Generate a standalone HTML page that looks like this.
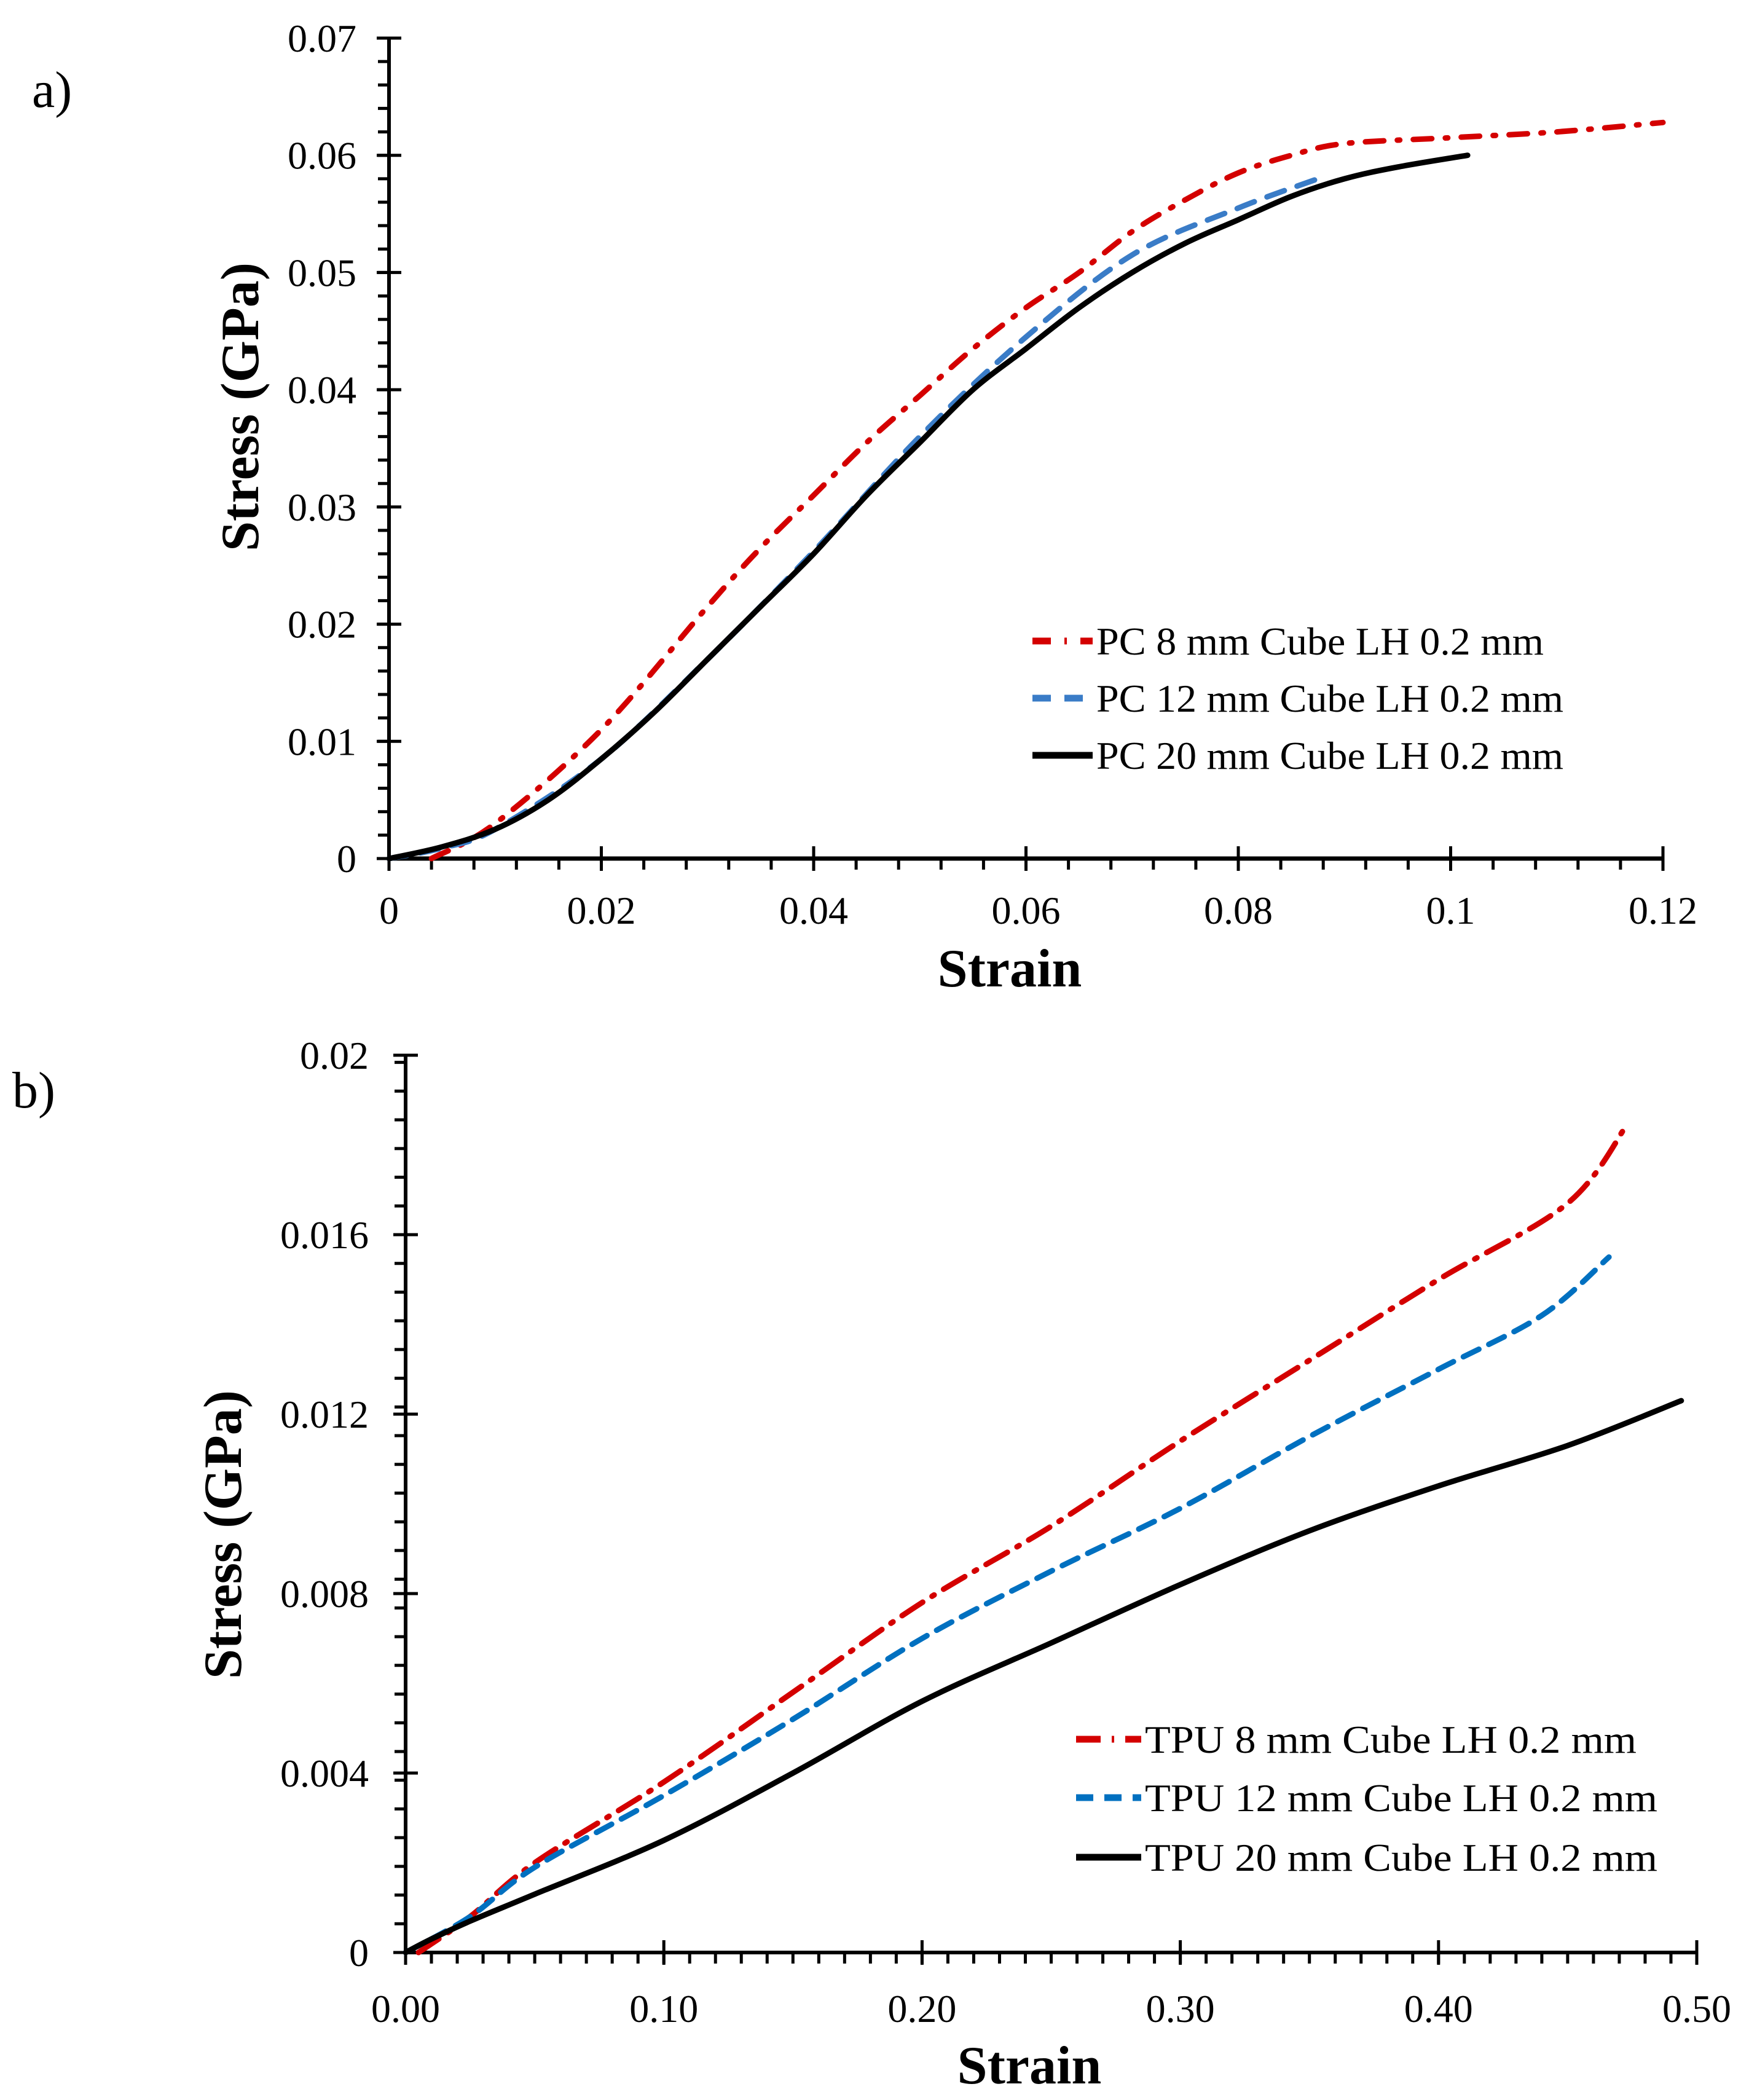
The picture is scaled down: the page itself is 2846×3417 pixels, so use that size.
<!DOCTYPE html>
<html><head><meta charset="utf-8"><style>
html,body{margin:0;padding:0;background:#fff;}
svg{display:block;font-family:"Liberation Serif",serif;}
</style></head><body>
<svg id="fig" width="2846" height="3417" viewBox="0 0 2846 3417" xmlns="http://www.w3.org/2000/svg">
<rect width="2846" height="3417" fill="#fff"/>
<text x="52" y="174" font-size="84">a)</text>
<text x="20" y="1802" font-size="84">b)</text>
<g id="ga"></g>
<g id="gb"></g>
</svg>
<script>
// ---- Chart a data ----
const aXTicks = ["0","0.02","0.04","0.06","0.08","0.1","0.12"];
const aYTicks = ["0","0.01","0.02","0.03","0.04","0.05","0.06","0.07"];
const aPC8x = [0.004,0.01,0.02,0.03,0.035,0.04,0.045,0.05,0.055,0.06,0.065,0.07,0.075,0.08,0.085,0.09,0.1,0.11,0.12];
const aPC8y = [0,0.003,0.011,0.0215,0.0265,0.031,0.0355,0.0395,0.0435,0.047,0.050,0.0535,0.0562,0.0585,0.060,0.061,0.0615,0.062,0.0628];
const aPC12x = [0,0.005,0.01,0.02,0.03,0.04,0.05,0.06,0.07,0.08,0.0875];
const aPC12y = [0,0.0009,0.0025,0.0085,0.017,0.0262,0.036,0.0445,0.0515,0.0555,0.058];
const aPC20x = [0,0.005,0.01,0.015,0.02,0.025,0.03,0.035,0.04,0.045,0.05,0.055,0.06,0.065,0.07,0.075,0.08,0.085,0.09,0.095,0.1016];
const aPC20y = [0,0.001,0.0025,0.005,0.0085,0.0125,0.017,0.0215,0.026,0.031,0.0355,0.040,0.0435,0.047,0.050,0.0525,0.0545,0.0565,0.058,0.059,0.060];
// ---- Chart b data ----
const bXTicks = ["0.00","0.10","0.20","0.30","0.40","0.50"];
const bYTicks = ["0","0.004","0.008","0.012","0.016","0.02"];
const bTPU8x = [0.005,0.025,0.05,0.1,0.15,0.2,0.25,0.3,0.35,0.4,0.45,0.4735];
const bTPU8y = [0,0.0008,0.002,0.0038,0.0058,0.0078,0.0095,0.0114,0.0132,0.015,0.0167,0.0185];
const bTPU12x = [0,0.025,0.05,0.1,0.15,0.2,0.25,0.3,0.35,0.4,0.44,0.466];
const bTPU12y = [0,0.0008,0.0019,0.0035,0.0052,0.0070,0.0085,0.0099,0.0115,0.013,0.0142,0.0155];
const bTPU20x = [0,0.01,0.025,0.05,0.1,0.15,0.2,0.25,0.3,0.35,0.4,0.45,0.494];
const bTPU20y = [0,0.0003,0.0007,0.0013,0.0025,0.004,0.0056,0.0069,0.0082,0.0094,0.0104,0.0113,0.0123];

const NS="http://www.w3.org/2000/svg";
function mk(parent,tag,attrs,txt){const e=document.createElementNS(NS,tag);for(const k in attrs)e.setAttribute(k,attrs[k]);if(txt!==undefined)e.textContent=txt;parent.appendChild(e);return e;}
function smooth(p){
  let d='M'+p[0][0].toFixed(1)+','+p[0][1].toFixed(1);
  for(let i=0;i<p.length-1;i++){
    const p0=p[Math.max(0,i-1)],p1=p[i],p2=p[i+1],p3=p[Math.min(p.length-1,i+2)];
    const c1=[p1[0]+(p2[0]-p0[0])/6,p1[1]+(p2[1]-p0[1])/6];
    const c2=[p2[0]-(p3[0]-p1[0])/6,p2[1]-(p3[1]-p1[1])/6];
    d+=' C'+c1[0].toFixed(1)+','+c1[1].toFixed(1)+' '+c2[0].toFixed(1)+','+c2[1].toFixed(1)+' '+p2[0].toFixed(1)+','+p2[1].toFixed(1);
  }
  return d;
}

function chart(g,cfg){
  const sx=v=>cfg.x0+(v-cfg.xmin)/(cfg.xmax-cfg.xmin)*(cfg.x1-cfg.x0);
  const sy=v=>cfg.y0-(v-cfg.ymin)/(cfg.ymax-cfg.ymin)*(cfg.y0-cfg.y1);
  let e=mk(g,'line',{x1:cfg.x0,y1:cfg.y0,x2:cfg.x1,y2:cfg.y0,stroke:'#000','stroke-width':cfg.xw});
  
  
  e=mk(g,'line',{x1:cfg.x0,y1:cfg.y0,x2:cfg.x0,y2:cfg.y1,stroke:'#000','stroke-width':6});
  
  
  for(let v=cfg.xmin;v<=cfg.xmax+1e-9;v+=cfg.xminor){
    e=mk(g,'line',{x1:sx(v),y1:cfg.y0,x2:sx(v),y2:cfg.y0+18,stroke:'#000','stroke-width':5});
    
    
  }
  cfg.xt.forEach((t,i)=>{
    const v=cfg.xmin+i*cfg.xstep;
    e=mk(g,'line',{x1:sx(v),y1:cfg.y0-20,x2:sx(v),y2:cfg.y0+20,stroke:'#000','stroke-width':5});
    
    
    e=mk(g,'text',{x:sx(v),y:cfg.xly,'font-size':64,'text-anchor':'middle'},t);
    
    
  });
  for(let v=cfg.ymin;v<=cfg.ymax+1e-9;v+=cfg.yminor){
    e=mk(g,'line',{x1:cfg.x0-18,y1:sy(v),x2:cfg.x0,y2:sy(v),stroke:'#000','stroke-width':5});
    
    
  }
  cfg.yt.forEach((t,i)=>{
    const v=cfg.ymin+i*cfg.ystep;
    e=mk(g,'line',{x1:cfg.x0-20,y1:sy(v),x2:cfg.x0+20,y2:sy(v),stroke:'#000','stroke-width':5});
    
    
    e=mk(g,'text',{x:cfg.ylx,y:sy(v)+22,'font-size':64,'text-anchor':'end'},t);
    
    
  });
  e=mk(g,'text',{x:cfg.xtx,y:cfg.xty,'font-size':88,'font-weight':'bold','text-anchor':'middle'},'Strain');
  
  
  e=mk(g,'text',{x:0,y:0,'font-size':88,'font-weight':'bold','text-anchor':'middle',transform:`translate(${cfg.ytx},${cfg.yty}) rotate(-90)`},'Stress (GPa)');
  
  
  cfg.series.forEach(s=>{
    const pts=s.xs.map((x,i)=>[sx(x),sy(s.ys[i])]);
    e=mk(g,'path',{d:smooth(pts),fill:'none',stroke:s.color,'stroke-width':9,'stroke-dasharray':s.dash,'stroke-linecap':'round','stroke-linejoin':'round'});
    
    
    e=mk(g,'line',{x1:cfg.lx0,y1:s.ly,x2:cfg.lx1,y2:s.ly,stroke:s.color,'stroke-width':11,'stroke-dasharray':s.dash});
    
    
    e=mk(g,'text',{x:cfg.lx1+6,y:s.ly+22,'font-size':64,textLength:s.tl,lengthAdjust:'spacingAndGlyphs'},s.label);
    
    
  });
}

chart(document.getElementById('ga'),{
  x0:633,x1:2706,y0:1397,y1:62,xmin:0,xmax:0.12,ymin:0,ymax:0.07,xstep:0.02,ystep:0.01,xminor:0.004,yminor:0.002,
  xt:aXTicks,yt:aYTicks,xw:7,xly:1503,ylx:580,xtx:1643,xty:1605,ytx:420,yty:662,lx0:1680,lx1:1778,
  series:[
    {name:'pc-8mm',xs:aPC8x,ys:aPC8y,color:'#d40000',dash:'30 22 4 22',label:'PC 8 mm Cube LH 0.2 mm',ly:1043,tl:728},
    {name:'pc-12mm',xs:aPC12x,ys:aPC12y,color:'#3a7cc7',dash:'30 22',label:'PC 12 mm Cube LH 0.2 mm',ly:1136,tl:760},
    {name:'pc-20mm',xs:aPC20x,ys:aPC20y,color:'#000',dash:'none',label:'PC 20 mm Cube LH 0.2 mm',ly:1229,tl:760}
  ]
});
chart(document.getElementById('gb'),{
  x0:660,x1:2761,y0:3177,y1:1717,xmin:0,xmax:0.5,ymin:0,ymax:0.02,xstep:0.1,ystep:0.004,xminor:0.01,yminor:0.00064,
  xt:bXTicks,yt:bYTicks,xw:6,xly:3290,ylx:600,xtx:1675,xty:3390,ytx:392,yty:2497,lx0:1751,lx1:1857,
  series:[
    {name:'tpu-8mm',xs:bTPU8x,ys:bTPU8y,color:'#d40000',dash:'40 18 4 18',label:'TPU 8 mm Cube LH 0.2 mm',ly:2830,tl:800},
    {name:'tpu-12mm',xs:bTPU12x,ys:bTPU12y,color:'#0070c0',dash:'28 18',label:'TPU 12 mm Cube LH 0.2 mm',ly:2925,tl:834},
    {name:'tpu-20mm',xs:bTPU20x,ys:bTPU20y,color:'#000',dash:'none',label:'TPU 20 mm Cube LH 0.2 mm',ly:3022,tl:834}
  ]
});
</script>
</body></html>
